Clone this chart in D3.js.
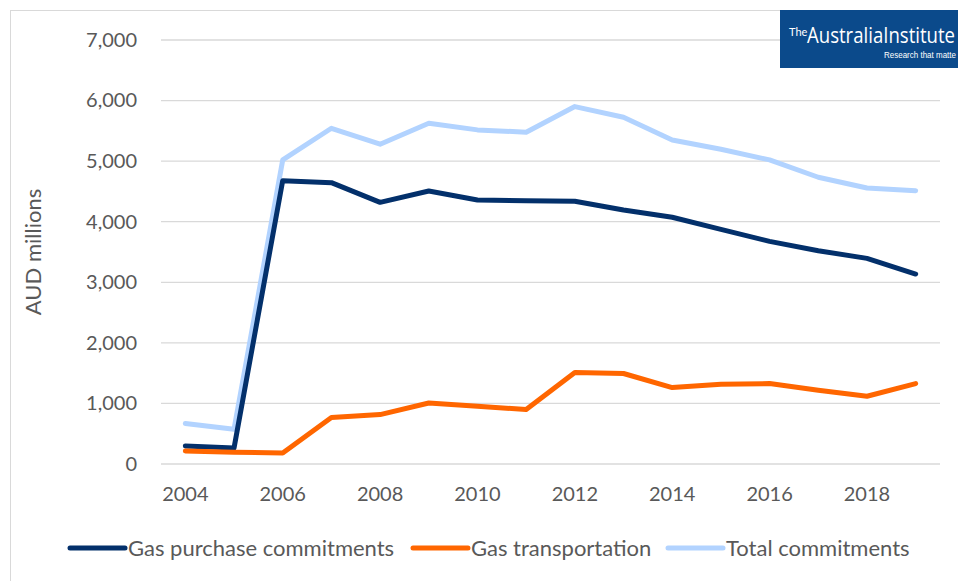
<!DOCTYPE html>
<html>
<head>
<meta charset="utf-8">
<script src="https://cdn.jsdelivr.net/npm/d3@7"></script>
<style>
  body { margin: 0; background: #fff; }
  text { font-family: Lato, "Open Sans", sans-serif; }
</style>
</head>
<body>
<div id="chart"></div>
<script>
// chart data
var years = d3.range(2004, 2020);
var yTicks = [0, 1000, 2000, 3000, 4000, 5000, 6000, 7000];
var xTickLabels = [2004, 2006, 2008, 2010, 2012, 2014, 2016, 2018];
var seriesNames = ['Gas purchase commitments', 'Gas transportation', 'Total commitments'];
var purchase = [298, 265, 4678, 4645, 4320, 4507, 4359, 4347, 4337, 4193, 4073, 3874, 3676, 3521, 3395, 3136];
var transport = [215, 193, 182, 767, 816, 1008, 954, 899, 1510, 1494, 1262, 1317, 1328, 1218, 1119, 1328];
var total = [668, 573, 5020, 5543, 5279, 5626, 5516, 5478, 5901, 5725, 5350, 5196, 5020, 4734, 4557, 4512];
var colors = ['#03306b', '#ff6600', '#b2d3ff'];

var w = 958, h = 581;
var m = { left: 161, right: 940, top: 40, bottom: 464 };

var svg = d3.select('#chart').append('svg')
  .attr('width', w)
  .attr('height', h);

// outer frame
svg.append('rect')
  .attr('x', 10.5).attr('y', 10.5)
  .attr('width', w).attr('height', h)
  .attr('fill', 'none')
  .attr('stroke', '#d9d9d9');

var x = d3.scaleBand().domain(years).range([m.left, m.right]);
var y = d3.scaleLinear().domain([0, 7000]).range([m.bottom, m.top]);

// gridlines
svg.append('g')
  .selectAll('line')
  .data(yTicks)
  .enter().append('line')
  .attr('x1', m.left).attr('x2', m.right)
  .attr('y1', function (d) { return y(d); })
  .attr('y2', function (d) { return y(d); })
  .attr('stroke', '#d9d9d9')
  .attr('stroke-width', 1.3);

// y axis labels
var yAxis = svg.append('g')
  .attr('transform', 'translate(' + (m.left - 24) + ',0)')
  .call(d3.axisLeft(y).tickValues(yTicks).tickSize(0).tickPadding(0).tickFormat(d3.format(',')));
yAxis.select('.domain').remove();
yAxis.selectAll('text')
  .attr('fill', '#595959')
  .style('font-size', '20px');

// x axis labels
var xAxis = svg.append('g')
  .attr('transform', 'translate(0,' + (m.bottom + 20) + ')')
  .call(d3.axisBottom(x).tickValues(xTickLabels).tickSize(0).tickPadding(0));
xAxis.select('.domain').remove();
xAxis.selectAll('text')
  .attr('fill', '#595959')
  .attr('dy', '0.85em')
  .style('font-size', '20px');

// axis title
svg.append('text')
  .attr('transform', 'translate(41,' + ((m.top + m.bottom) / 2) + ') rotate(-90)')
  .attr('text-anchor', 'middle')
  .attr('fill', '#595959')
  .style('font-size', '22px')
  .text('AUD millions');

// lines
var line = d3.line()
  .x(function (d, i) { return x(years[i]) + x.bandwidth() / 2; })
  .y(function (d) { return y(d); });

// draw order: total behind, then purchase, then transport
var drawOrder = [2, 0, 1];
var allSeries = [purchase, transport, total];
drawOrder.forEach(function (k) {
  svg.append('path')
    .datum(allSeries[k])
    .attr('d', line)
    .attr('fill', 'none')
    .attr('stroke', colors[k])
    .attr('stroke-width', 5)
    .attr('stroke-linejoin', 'round')
    .attr('stroke-linecap', 'round');
});

// legend
var legendX = [70, 413, 668];
var legend = svg.append('g').attr('transform', 'translate(0,548)');
seriesNames.forEach(function (name, i) {
  legend.append('line')
    .attr('x1', legendX[i]).attr('x2', legendX[i] + 55)
    .attr('y1', 0).attr('y2', 0)
    .attr('stroke', colors[i])
    .attr('stroke-width', 5)
    .attr('stroke-linecap', 'round');
  legend.append('text')
    .attr('x', legendX[i] + 58)
    .attr('y', 0)
    .attr('dy', '0.35em')
    .attr('fill', '#595959')
    .style('font-size', '22px')
    .text(name);
});

// logo
var lg = svg.append('g');
lg.append('rect')
  .attr('x', 780).attr('y', 10).attr('width', 178).attr('height', 58)
  .attr('fill', '#0b4a8b');
lg.append('text')
  .attr('x', 789).attr('y', 36)
  .attr('fill', '#fff')
  .style('font-size', '11px')
  .text('The');
lg.append('text')
  .attr('x', 807).attr('y', 43)
  .attr('fill', '#fff')
  .style('font-size', '22px')
  .style('font-family', '"Liberation Sans Narrow", "Open Sans", sans-serif')
  .attr('textLength', 148)
  .attr('lengthAdjust', 'spacingAndGlyphs')
  .text('AustraliaInstitute');
lg.append('text')
  .attr('x', 884).attr('y', 58)
  .attr('fill', '#fff')
  .style('font-size', '9px')
  .style('font-family', '"Liberation Sans Narrow", sans-serif')
  .attr('textLength', 72)
  .attr('lengthAdjust', 'spacingAndGlyphs')
  .text('Research that matte');
</script>
</body>
</html>
